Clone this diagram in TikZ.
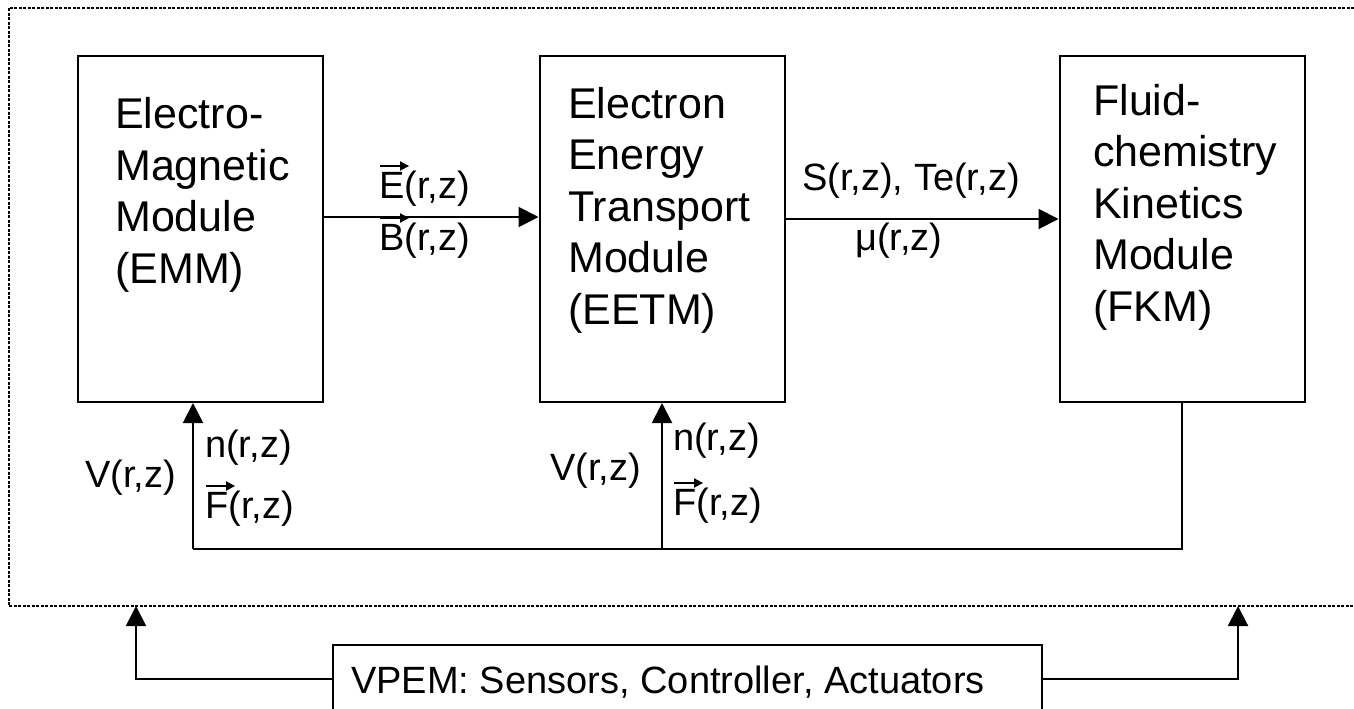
\documentclass[tikz,border=0pt]{standalone}
\usepackage{amsmath}
\usepackage{fontspec}
\setmainfont{Liberation Sans}
\usetikzlibrary{arrows.meta,positioning,calc}

% small arrow set over a letter
\newcommand{\fvec}[1]{\makebox[0pt][l]{\tikz[baseline=0pt,x=1pt,y=1pt]\draw[line width=1.8pt,-{Triangle[length=9pt,width=9pt]}] (3,32) -- (32,32);}#1}

\tikzset{
  module/.style={draw,line width=2pt,minimum width=245pt,minimum height=346pt,inner sep=0pt},
  modtext/.style={align=left,font=\fontsize{43}{51.5}\selectfont,anchor=base west,inner sep=0pt},
  lbl/.style={font=\fontsize{38}{44}\selectfont,anchor=base west,inner sep=0pt},
  flow/.style={-{Triangle[length=20pt,width=20pt]},line width=2pt},
  wire/.style={line width=2pt},
  frame/.style={line width=2pt,dash pattern=on 3pt off 1.5pt}
}

\begin{document}
\begin{tikzpicture}[x=1pt,y=-1pt]
  \useasboundingbox (0,0) rectangle (1354,709);

  % -- OUTER FRAME ---------------------------------------------------
  \draw[frame] (1354,8) -- (8.5,8) -- (8.5,606) -- (1354,606);

  % -- MODULES -------------------------------------------------------
  \node[module] (emm)  at (200.5,229) {};
  \node[module] (eetm) at (662,229) {};
  \node[module] (fkm)  at (1182,229) {};

  % base = last line
  \node[modtext] (emmtxt)  at (115,283)  {Electro-\\Magnetic\\Module\\(EMM)};
  \node[modtext] (eetmtxt) at (568,324)  {Electron\\Energy\\Transport\\Module\\(EETM)};
  \node[modtext] (fkmtxt)  at (1093,321) {Fluid-\\chemistry\\Kinetics\\Module\\(FKM)};

  % -- FORWARD COUPLING ----------------------------------------------
  \draw[flow] ([yshift=12pt]emm.east) -- ([yshift=12pt]eetm.west);
  \draw[flow] ([yshift=10pt]eetm.east) -- ([yshift=10pt]fkm.west);

  \node[lbl] (lblE)  at (379,198) {\fvec{E}(r,z)};
  \node[lbl] (lblB)  at (379,250) {\fvec{B}(r,z)};
  \node[lbl] (lblS)  at (802,190) {S(r,z), Te(r,z)};
  \node[lbl] (lblmu) at (855,250) {μ(r,z)};

  % -- FEEDBACK BUS --------------------------------------------------
  \coordinate (busL) at (193,549);
  \coordinate (busR) at (fkm.south |- busL);
  \draw[wire] (fkm.south) -- (busR) -- (busL);
  \draw[flow] (busL) -- (busL |- emm.south);
  \draw[flow] (eetm.south |- busL) -- (eetm.south);

  \node[lbl] (lblV1) at (85,487)  {V(r,z)};
  \node[lbl] (lbln1) at (205,457) {n(r,z)};
  \node[lbl] (lblF1) at (205,518) {\fvec{F}(r,z)};
  \node[lbl] (lblV2) at (550,480) {V(r,z)};
  \node[lbl] (lbln2) at (673,450) {n(r,z)};
  \node[lbl] (lblF2) at (673,515) {\fvec{F}(r,z)};

  % -- CONTROL -------------------------------------------------------
  \node[draw,line width=2pt,minimum width=709pt,minimum height=68pt] (vpem) at (687.5,679) {};
  \node[lbl] (vpemtxt) at (351,693) {VPEM: Sensors, Controller, Actuators};

  \coordinate (ctrlL) at (136,606);
  \coordinate (ctrlR) at (1238,606);
  \draw[flow] (vpem.west) -| (ctrlL);
  \draw[flow] (vpem.east) -| (ctrlR);

\end{tikzpicture}
\end{document}
